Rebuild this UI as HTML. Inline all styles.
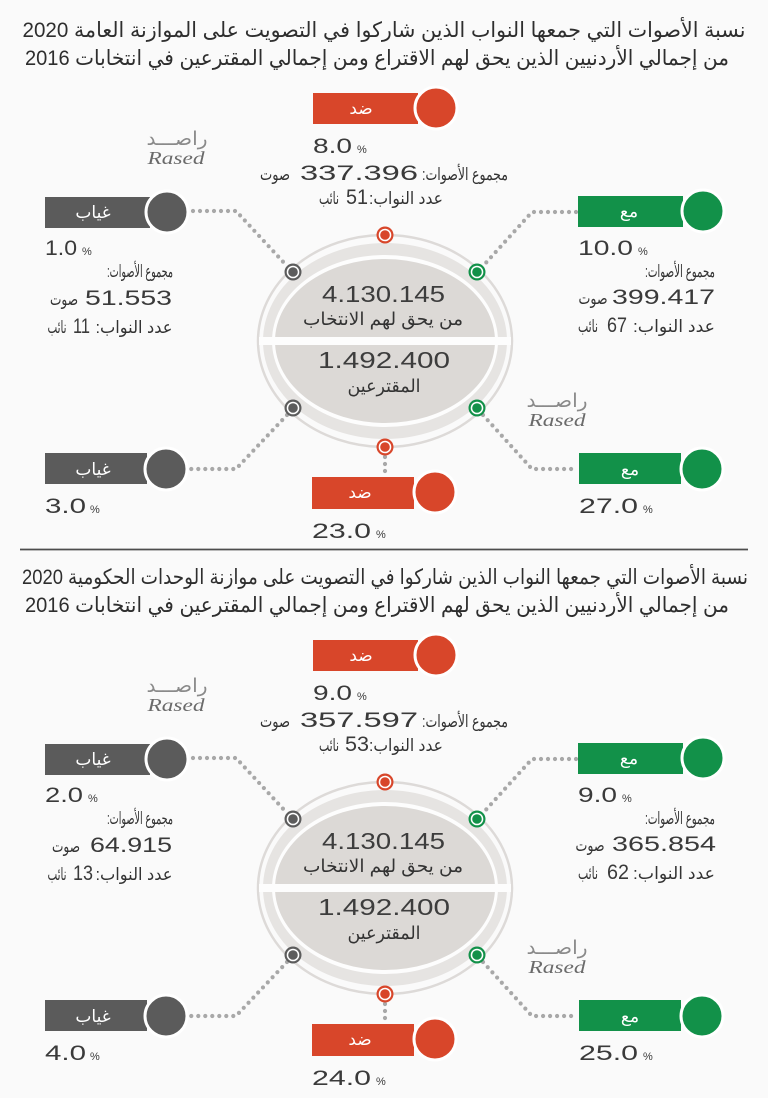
<!DOCTYPE html>
<html><head><meta charset="utf-8">
<style>
html,body{margin:0;padding:0;background:#fafafa;}
svg{display:block;}
text{font-family:"Liberation Sans","DejaVu Sans",sans-serif;}
.t{fill:#2e2e2e;font-size:21px;}
.ar{fill:#333;font-size:17px;}
.num{fill:#3a3a3a;font-size:21px;}
.pc{fill:#3a3a3a;font-size:11px;}
.lbl{fill:#fff;font-size:17px;}
.cn{fill:#3d3d3d;font-size:23px;}
.ca{fill:#333;font-size:18px;}
.rs{fill:#8a8a8a;font-size:19px;}
.re{fill:#6a6a6a;font-size:18px;font-family:"Liberation Serif",serif;font-style:italic;}
</style></head>
<body>
<svg width="768" height="1098" viewBox="0 0 768 1098" xmlns="http://www.w3.org/2000/svg">
<rect width="768" height="1098" fill="#fafafa"/>
<defs>
<g id="shapes">
  <ellipse cx="385" cy="341" rx="127" ry="106" fill="none" stroke="#dddad8" stroke-width="2.5"/>
  <ellipse cx="385" cy="341" rx="122" ry="98" fill="#e6e4e2"/>
  <ellipse cx="385" cy="341" rx="113" ry="86" fill="#fdfdfd"/>
  <ellipse cx="385" cy="341" rx="110" ry="82" fill="#dcd9d6"/>
  <rect x="259" y="337" width="252" height="8" fill="#fdfdfd"/>
  <g fill="none" stroke="#a8a8a8" stroke-width="4.2" stroke-linecap="round" stroke-dasharray="0 7">
    <path d="M193 211 L236 211 L287 266"/>
    <path d="M576 212 L532 212 L483 266"/>
    <path d="M287 415 L236 469 L191 469"/>
    <path d="M483 415 L532 469 L575 469"/>
    <path d="M385 457 L385 475"/>
  </g>
  <g>
    <circle cx="385" cy="235" r="8.5" fill="#d8462a"/><circle cx="385" cy="235" r="6.3" fill="#fff"/><circle cx="385" cy="235" r="4.8" fill="#d8462a"/>
    <circle cx="385" cy="447" r="8.5" fill="#d8462a"/><circle cx="385" cy="447" r="6.3" fill="#fff"/><circle cx="385" cy="447" r="4.8" fill="#d8462a"/>
    <circle cx="293" cy="272" r="8.5" fill="#5c5c5c"/><circle cx="293" cy="272" r="6.3" fill="#fff"/><circle cx="293" cy="272" r="4.8" fill="#5c5c5c"/>
    <circle cx="293" cy="408" r="8.5" fill="#5c5c5c"/><circle cx="293" cy="408" r="6.3" fill="#fff"/><circle cx="293" cy="408" r="4.8" fill="#5c5c5c"/>
    <circle cx="477" cy="272" r="8.5" fill="#129149"/><circle cx="477" cy="272" r="6.3" fill="#fff"/><circle cx="477" cy="272" r="4.8" fill="#129149"/>
    <circle cx="477" cy="408" r="8.5" fill="#129149"/><circle cx="477" cy="408" r="6.3" fill="#fff"/><circle cx="477" cy="408" r="4.8" fill="#129149"/>
  </g>
  <rect x="313" y="93" width="105" height="31" fill="#d8462a"/>
  <circle cx="436" cy="108" r="21" fill="#d8462a" stroke="#fff" stroke-width="3"/>
  <rect x="45" y="197" width="105" height="31" fill="#5b5b5b"/>
  <circle cx="167" cy="212" r="21" fill="#5b5b5b" stroke="#fff" stroke-width="3"/>
  <rect x="578" y="196" width="105" height="31" fill="#129149"/>
  <circle cx="703" cy="211" r="21" fill="#129149" stroke="#fff" stroke-width="3"/>
  <rect x="45" y="453" width="102" height="31" fill="#5b5b5b"/>
  <circle cx="166" cy="469" r="21" fill="#5b5b5b" stroke="#fff" stroke-width="3"/>
  <rect x="579" y="453" width="102" height="31" fill="#129149"/>
  <circle cx="702" cy="469" r="21" fill="#129149" stroke="#fff" stroke-width="3"/>
  <rect x="312" y="477" width="102" height="32" fill="#d8462a"/>
  <circle cx="435" cy="492" r="21" fill="#d8462a" stroke="#fff" stroke-width="3"/>
</g>
</defs>

<!-- ================= SECTION 1 ================= -->
<g>
  <text class="t" x="384" y="37" text-anchor="middle" direction="rtl" textLength="723" lengthAdjust="spacingAndGlyphs">نسبة الأصوات التي جمعها النواب الذين شاركوا في التصويت على الموازنة العامة 2020</text>
  <text class="t" x="377" y="65" text-anchor="middle" direction="rtl" textLength="704" lengthAdjust="spacingAndGlyphs">من إجمالي الأردنيين الذين يحق لهم الاقتراع ومن إجمالي المقترعين في انتخابات 2016</text>

  <use href="#shapes"/>

  <text class="cn" x="322" y="302" textLength="123" lengthAdjust="spacingAndGlyphs">4.130.145</text>
  <text class="ca" x="383" y="325" text-anchor="middle" direction="rtl" textLength="160" lengthAdjust="spacingAndGlyphs">من يحق لهم الانتخاب</text>
  <text class="cn" x="318" y="368" textLength="132" lengthAdjust="spacingAndGlyphs">1.492.400</text>
  <text class="ca" x="384" y="392" text-anchor="middle" direction="rtl" textLength="73" lengthAdjust="spacingAndGlyphs">المقترعين</text>

  <text class="lbl" x="361" y="114" text-anchor="middle" direction="rtl">ضد</text>
  <text class="lbl" x="93" y="218" text-anchor="middle" direction="rtl">غياب</text>
  <text class="lbl" x="629" y="217" text-anchor="middle" direction="rtl">مع</text>
  <text class="lbl" x="93" y="475" text-anchor="middle" direction="rtl">غياب</text>
  <text class="lbl" x="630" y="475" text-anchor="middle" direction="rtl">مع</text>
  <text class="lbl" x="360" y="498" text-anchor="middle" direction="rtl">ضد</text>

  <text class="num" x="313" y="153" textLength="39" lengthAdjust="spacingAndGlyphs">8.0</text>
  <text class="pc" x="357" y="153">%</text>
  <text class="ar" x="465" y="180" text-anchor="middle" direction="rtl" textLength="86" lengthAdjust="spacingAndGlyphs">مجموع الأصوات:&#x200F;</text>
  <text class="num" x="300" y="180" textLength="118" lengthAdjust="spacingAndGlyphs">337.396</text>
  <text class="ar" x="275" y="180" text-anchor="middle" direction="rtl" textLength="30" lengthAdjust="spacingAndGlyphs">صوت</text>
  <text class="ar" x="406" y="204" text-anchor="middle" direction="rtl" textLength="74" lengthAdjust="spacingAndGlyphs">عدد النواب:&#x200F;</text>
  <text class="num" x="346" y="204" textLength="22" lengthAdjust="spacingAndGlyphs">51</text>
  <text class="ar" x="329" y="204" text-anchor="middle" direction="rtl" textLength="20" lengthAdjust="spacingAndGlyphs">نائب</text>

  <text class="num" x="45" y="255" textLength="32" lengthAdjust="spacingAndGlyphs">1.0</text>
  <text class="pc" x="82" y="255">%</text>
  <text class="ar" x="140" y="277" text-anchor="middle" direction="rtl" textLength="66" lengthAdjust="spacingAndGlyphs">مجموع الأصوات:&#x200F;</text>
  <text class="num" x="85" y="305" textLength="87" lengthAdjust="spacingAndGlyphs">51.553</text>
  <text class="ar" x="64" y="305" text-anchor="middle" direction="rtl" textLength="28" lengthAdjust="spacingAndGlyphs">صوت</text>
  <text class="ar" x="134" y="333" text-anchor="middle" direction="rtl" textLength="77" lengthAdjust="spacingAndGlyphs">عدد النواب:&#x200F;</text>
  <text class="num" x="73" y="333" textLength="17" lengthAdjust="spacingAndGlyphs">11</text>
  <text class="ar" x="57" y="333" text-anchor="middle" direction="rtl" textLength="19" lengthAdjust="spacingAndGlyphs">نائب</text>

  <text class="num" x="578" y="255" textLength="55" lengthAdjust="spacingAndGlyphs">10.0</text>
  <text class="pc" x="638" y="255">%</text>
  <text class="ar" x="680" y="277" text-anchor="middle" direction="rtl" textLength="70" lengthAdjust="spacingAndGlyphs">مجموع الأصوات:&#x200F;</text>
  <text class="num" x="612" y="304" textLength="103" lengthAdjust="spacingAndGlyphs">399.417</text>
  <text class="ar" x="593" y="304" text-anchor="middle" direction="rtl" textLength="29" lengthAdjust="spacingAndGlyphs">صوت</text>
  <text class="ar" x="674" y="332" text-anchor="middle" direction="rtl" textLength="82" lengthAdjust="spacingAndGlyphs">عدد النواب:&#x200F;</text>
  <text class="num" x="607" y="332" textLength="20" lengthAdjust="spacingAndGlyphs">67</text>
  <text class="ar" x="588" y="332" text-anchor="middle" direction="rtl" textLength="20" lengthAdjust="spacingAndGlyphs">نائب</text>

  <text class="num" x="45" y="513" textLength="41" lengthAdjust="spacingAndGlyphs">3.0</text>
  <text class="pc" x="90" y="513">%</text>
  <text class="num" x="579" y="513" textLength="59" lengthAdjust="spacingAndGlyphs">27.0</text>
  <text class="pc" x="643" y="513">%</text>
  <text class="num" x="312" y="538" textLength="59" lengthAdjust="spacingAndGlyphs">23.0</text>
  <text class="pc" x="376" y="538">%</text>

  <text class="rs" x="177" y="145" text-anchor="middle" direction="rtl" textLength="61" lengthAdjust="spacingAndGlyphs">راصـــد</text>
  <text class="re" x="176" y="164" text-anchor="middle" textLength="57" lengthAdjust="spacingAndGlyphs">Rased</text>
  <text class="rs" x="557" y="407" text-anchor="middle" direction="rtl" textLength="61" lengthAdjust="spacingAndGlyphs">راصـــد</text>
  <text class="re" x="557" y="426" text-anchor="middle" textLength="57" lengthAdjust="spacingAndGlyphs">Rased</text>
</g>

<line x1="20" y1="549.5" x2="748" y2="549.5" stroke="#4d4d4d" stroke-width="1.8"/>

<!-- ================= SECTION 2 ================= -->
<g transform="translate(0,547)">
  <text class="t" x="385" y="37" text-anchor="middle" direction="rtl" textLength="726" lengthAdjust="spacingAndGlyphs">نسبة الأصوات التي جمعها النواب الذين شاركوا في التصويت على موازنة الوحدات الحكومية 2020</text>
  <text class="t" x="377" y="65" text-anchor="middle" direction="rtl" textLength="704" lengthAdjust="spacingAndGlyphs">من إجمالي الأردنيين الذين يحق لهم الاقتراع ومن إجمالي المقترعين في انتخابات 2016</text>

  <use href="#shapes"/>

  <text class="cn" x="322" y="302" textLength="123" lengthAdjust="spacingAndGlyphs">4.130.145</text>
  <text class="ca" x="383" y="325" text-anchor="middle" direction="rtl" textLength="160" lengthAdjust="spacingAndGlyphs">من يحق لهم الانتخاب</text>
  <text class="cn" x="318" y="368" textLength="132" lengthAdjust="spacingAndGlyphs">1.492.400</text>
  <text class="ca" x="384" y="392" text-anchor="middle" direction="rtl" textLength="73" lengthAdjust="spacingAndGlyphs">المقترعين</text>

  <text class="lbl" x="361" y="114" text-anchor="middle" direction="rtl">ضد</text>
  <text class="lbl" x="93" y="218" text-anchor="middle" direction="rtl">غياب</text>
  <text class="lbl" x="629" y="217" text-anchor="middle" direction="rtl">مع</text>
  <text class="lbl" x="93" y="475" text-anchor="middle" direction="rtl">غياب</text>
  <text class="lbl" x="630" y="475" text-anchor="middle" direction="rtl">مع</text>
  <text class="lbl" x="360" y="498" text-anchor="middle" direction="rtl">ضد</text>

  <text class="num" x="313" y="153" textLength="39" lengthAdjust="spacingAndGlyphs">9.0</text>
  <text class="pc" x="357" y="153">%</text>
  <text class="ar" x="465" y="180" text-anchor="middle" direction="rtl" textLength="86" lengthAdjust="spacingAndGlyphs">مجموع الأصوات:&#x200F;</text>
  <text class="num" x="300" y="180" textLength="118" lengthAdjust="spacingAndGlyphs">357.597</text>
  <text class="ar" x="275" y="180" text-anchor="middle" direction="rtl" textLength="30" lengthAdjust="spacingAndGlyphs">صوت</text>
  <text class="ar" x="406" y="204" text-anchor="middle" direction="rtl" textLength="74" lengthAdjust="spacingAndGlyphs">عدد النواب:&#x200F;</text>
  <text class="num" x="345" y="204" textLength="24" lengthAdjust="spacingAndGlyphs">53</text>
  <text class="ar" x="329" y="204" text-anchor="middle" direction="rtl" textLength="20" lengthAdjust="spacingAndGlyphs">نائب</text>

  <text class="num" x="45" y="255" textLength="38" lengthAdjust="spacingAndGlyphs">2.0</text>
  <text class="pc" x="88" y="255">%</text>
  <text class="ar" x="140" y="277" text-anchor="middle" direction="rtl" textLength="66" lengthAdjust="spacingAndGlyphs">مجموع الأصوات:&#x200F;</text>
  <text class="num" x="90" y="305" textLength="82" lengthAdjust="spacingAndGlyphs">64.915</text>
  <text class="ar" x="66" y="305" text-anchor="middle" direction="rtl" textLength="28" lengthAdjust="spacingAndGlyphs">صوت</text>
  <text class="ar" x="134" y="333" text-anchor="middle" direction="rtl" textLength="77" lengthAdjust="spacingAndGlyphs">عدد النواب:&#x200F;</text>
  <text class="num" x="73" y="333" textLength="20" lengthAdjust="spacingAndGlyphs">13</text>
  <text class="ar" x="57" y="333" text-anchor="middle" direction="rtl" textLength="19" lengthAdjust="spacingAndGlyphs">نائب</text>

  <text class="num" x="578" y="255" textLength="39" lengthAdjust="spacingAndGlyphs">9.0</text>
  <text class="pc" x="622" y="255">%</text>
  <text class="ar" x="680" y="277" text-anchor="middle" direction="rtl" textLength="70" lengthAdjust="spacingAndGlyphs">مجموع الأصوات:&#x200F;</text>
  <text class="num" x="612" y="304" textLength="104" lengthAdjust="spacingAndGlyphs">365.854</text>
  <text class="ar" x="590" y="304" text-anchor="middle" direction="rtl" textLength="29" lengthAdjust="spacingAndGlyphs">صوت</text>
  <text class="ar" x="674" y="332" text-anchor="middle" direction="rtl" textLength="82" lengthAdjust="spacingAndGlyphs">عدد النواب:&#x200F;</text>
  <text class="num" x="607" y="332" textLength="22" lengthAdjust="spacingAndGlyphs">62</text>
  <text class="ar" x="588" y="332" text-anchor="middle" direction="rtl" textLength="20" lengthAdjust="spacingAndGlyphs">نائب</text>

  <text class="num" x="45" y="513" textLength="41" lengthAdjust="spacingAndGlyphs">4.0</text>
  <text class="pc" x="90" y="513">%</text>
  <text class="num" x="579" y="513" textLength="59" lengthAdjust="spacingAndGlyphs">25.0</text>
  <text class="pc" x="643" y="513">%</text>
  <text class="num" x="312" y="538" textLength="59" lengthAdjust="spacingAndGlyphs">24.0</text>
  <text class="pc" x="376" y="538">%</text>

  <text class="rs" x="177" y="145" text-anchor="middle" direction="rtl" textLength="61" lengthAdjust="spacingAndGlyphs">راصـــد</text>
  <text class="re" x="176" y="164" text-anchor="middle" textLength="57" lengthAdjust="spacingAndGlyphs">Rased</text>
  <text class="rs" x="557" y="407" text-anchor="middle" direction="rtl" textLength="61" lengthAdjust="spacingAndGlyphs">راصـــد</text>
  <text class="re" x="557" y="426" text-anchor="middle" textLength="57" lengthAdjust="spacingAndGlyphs">Rased</text>
</g>
</svg>
</body></html>
